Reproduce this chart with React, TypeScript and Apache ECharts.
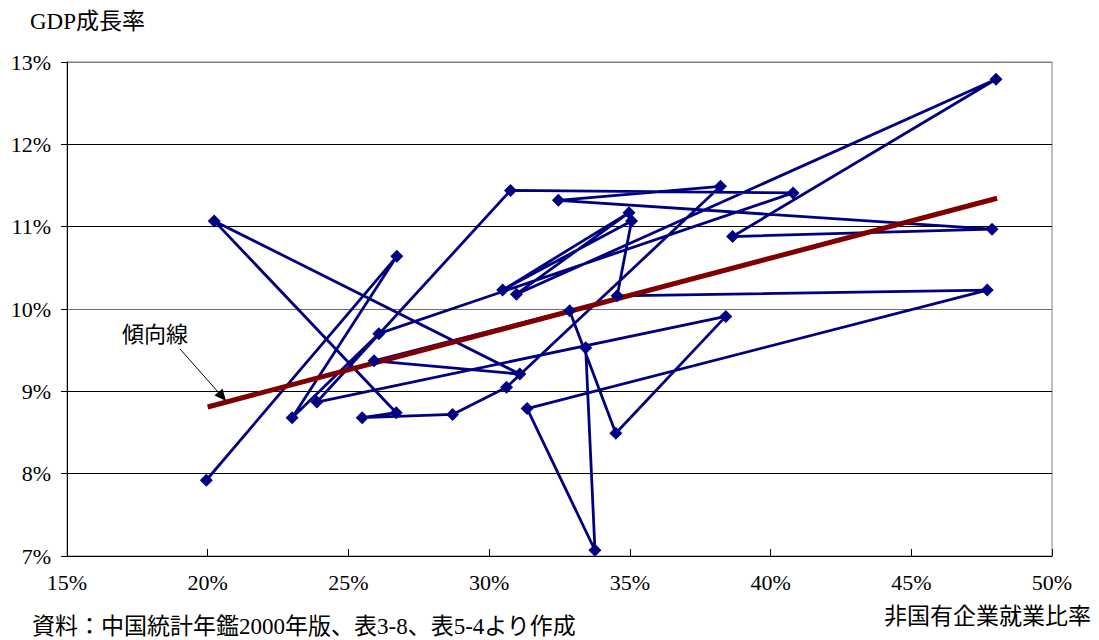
import React, { useEffect, useRef } from "react";
import * as echarts from "echarts";

// Non-state enterprise employment share (%) and GDP growth (%) per region, in plotting order
const nonStateShare = [
  19.95, 26.72, 23.0, 26.08, 40.8, 30.76, 23.88, 38.41, 34.5, 32.86, 25.91,
  31.09, 20.23, 26.7, 25.49, 28.7, 30.62, 38.22, 32.46, 47.87, 38.65, 48.01,
  30.97, 34.97, 30.48, 35.06, 34.55, 47.7, 31.35, 33.76, 33.43,
];
const gdpGrowth = [
  7.92, 10.64, 8.68, 9.7, 11.41, 11.44, 8.87, 9.91, 8.49, 9.98, 9.37,
  9.21, 11.07, 8.74, 8.68, 8.72, 9.05, 11.49, 11.32, 10.97, 10.88, 12.79,
  10.18, 11.17, 10.23, 11.07, 10.16, 10.23, 8.79, 7.07, 9.53,
];

// Trend line end points
const trendX = [20.0, 48.05];
const trendY = [8.81, 11.345];

const xTicks = { min: 15, max: 50, step: 5 };
const yTicks = { min: 7, max: 13, step: 1 };

const yAxisTitle = "GDP成長率";
const xAxisTitle = "非国有企業就業比率";
const sourceNote = "資料：中国統計年鑑2000年版、表3-8、表5-4より作成";
const trendLabel = "傾向線";

const FONT = '"Liberation Serif", "Noto Sans CJK JP", serif';

export default function App() {
  const ref = useRef<HTMLDivElement>(null);

  useEffect(() => {
    if (!ref.current) return;
    const chart = echarts.init(ref.current, undefined, { renderer: "svg" });
    const points = nonStateShare.map((x, i) => [x, gdpGrowth[i]]);
    const trend = trendX.map((x, i) => [x, trendY[i]]);

    chart.setOption({
      animation: false,
      backgroundColor: "#ffffff",
      grid: {
        left: 67,
        top: 62,
        width: 985,
        height: 494,
        show: true,
        borderColor: "#808080",
        borderWidth: 1,
        backgroundColor: "transparent",
      },
      xAxis: {
        type: "value",
        min: xTicks.min,
        max: xTicks.max,
        interval: xTicks.step,
        axisLine: { show: true, onZero: false, lineStyle: { color: "#000", width: 1 } },
        axisTick: { show: true, inside: true, length: 7, lineStyle: { color: "#000" } },
        axisLabel: {
          formatter: "{value}%",
          margin: 15,
          color: "#000",
          fontSize: 22,
          fontFamily: FONT,
        },
        splitLine: { show: false },
      },
      yAxis: {
        type: "value",
        min: yTicks.min,
        max: yTicks.max,
        interval: yTicks.step,
        axisLine: { show: true, onZero: false, lineStyle: { color: "#000", width: 1 } },
        axisTick: { show: true, inside: false, length: 6, lineStyle: { color: "#000" } },
        axisLabel: {
          formatter: "{value}%",
          margin: 16,
          color: "#000",
          fontSize: 22,
          fontFamily: FONT,
        },
        splitLine: {
          show: true,
          lineStyle: {
            color: ["#000", "#000", "#000", "#6e6e6e", "#000", "#000", "#808080"],
            width: 1,
          },
        },
      },
      series: [
        {
          type: "line",
          data: points,
          symbol: "none",
          lineStyle: { color: "#000080", width: 2.8 },
          z: 2,
        },
        {
          type: "line",
          data: trend,
          symbol: "none",
          lineStyle: { color: "#800000", width: 5 },
          z: 3,
        },
        {
          type: "scatter",
          data: points,
          symbol: "diamond",
          symbolSize: 13,
          itemStyle: { color: "#000080", opacity: 1 },
          z: 4,
        },
      ],
      graphic: [
        {
          type: "text",
          left: 30,
          top: 10,
          style: { text: yAxisTitle, fontSize: 23, fontFamily: FONT, fill: "#000" },
        },
        {
          type: "text",
          right: 8,
          top: 605,
          style: { text: xAxisTitle, fontSize: 23, fontFamily: FONT, fill: "#000" },
        },
        {
          type: "text",
          left: 32,
          top: 615,
          style: { text: sourceNote, fontSize: 23, fontFamily: FONT, fill: "#000" },
        },
        {
          type: "text",
          left: 122,
          top: 323,
          style: { text: trendLabel, fontSize: 22, fontFamily: FONT, fill: "#000" },
        },
        {
          type: "line",
          shape: { x1: 180, y1: 349, x2: 219, y2: 393 },
          style: { stroke: "#000", lineWidth: 1 },
          z: 10,
        },
        {
          type: "polygon",
          shape: { points: [[226, 401], [214.5, 395.5], [222.5, 388.5]] },
          style: { fill: "#000" },
          z: 10,
        },
      ],
    });

    return () => chart.dispose();
  }, []);

  return (
    <div
      ref={ref}
      style={{ position: "fixed", left: 0, top: 0, width: 1099, height: 640, background: "#fff" }}
    />
  );
}
